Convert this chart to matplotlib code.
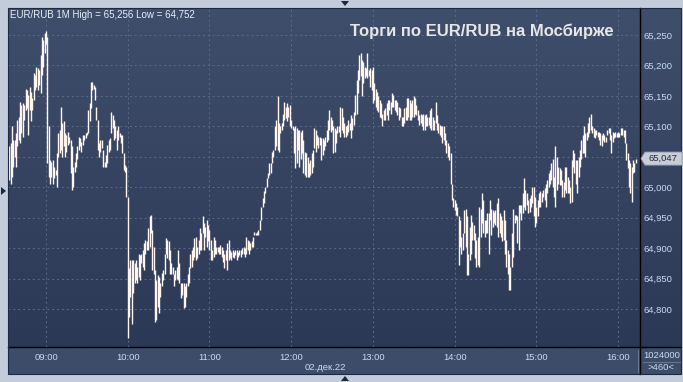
import numpy as np
import matplotlib.pyplot as plt
from matplotlib.patches import Rectangle, Polygon
from matplotlib.lines import Line2D
from matplotlib.colors import LinearSegmentedColormap

plt.rcParams['font.family'] = ['Liberation Sans', 'DejaVu Sans']

# 1-minute bars of EUR/RUB TOM, first bar at 08:33
start_hhmm = (8, 33)
highs = [
    65.067, 65.072, 65.100, 65.078, 65.078, 65.089, 65.110, 65.116, 65.140, 65.135,
    65.138, 65.135, 65.162, 65.160, 65.151, 65.165, 65.157, 65.146, 65.187, 65.184,
    65.198, 65.195, 65.193, 65.217, 65.247, 65.242, 65.254, 65.256, 65.247, 65.100,
    65.045, 65.042, 65.045, 65.034, 65.028, 65.056, 65.089, 65.094, 65.132, 65.105,
    65.108, 65.089, 65.086, 65.091, 65.083, 65.078, 65.067, 65.034, 65.042, 65.056,
    65.067, 65.083, 65.080, 65.075, 65.086, 65.086, 65.089, 65.091, 65.127, 65.138,
    65.173, 65.173, 65.168, 65.165, 65.132, 65.110, 65.072, 65.078, 65.078, 65.061,
    65.042, 65.053, 65.069, 65.078, 65.080, 65.124, 65.119, 65.110, 65.100, 65.094,
    65.100, 65.089, 65.086, 65.086, 65.056, 65.036, 65.034, 64.984, 64.867, 64.880,
    64.880, 64.880, 64.875, 64.880, 64.869, 64.891, 64.889, 64.891, 64.897, 64.908,
    64.913, 64.911, 64.933, 64.952, 64.954, 64.930, 64.902, 64.864, 64.848, 64.856,
    64.853, 64.842, 64.859, 64.864, 64.891, 64.916, 64.913, 64.911, 64.897, 64.875,
    64.869, 64.858, 64.864, 64.869, 64.897, 64.875, 64.842, 64.842, 64.842, 64.837,
    64.842, 64.858, 64.869, 64.891, 64.897, 64.902, 64.916, 64.919, 64.902, 64.913,
    64.933, 64.924, 64.952, 64.941, 64.935, 64.946, 64.938, 64.930, 64.913, 64.897,
    64.919, 64.913, 64.902, 64.902, 64.902, 64.905, 64.902, 64.897, 64.891, 64.897,
    64.908, 64.913, 64.897, 64.894, 64.897, 64.894, 64.897, 64.897, 64.894, 64.897,
    64.897, 64.900, 64.902, 64.900, 64.919, 64.913, 64.911, 64.908, 64.911, 64.919,
    64.927, 64.924, 64.927, 64.930, 64.946, 64.968, 64.982, 64.993, 65.001, 65.015,
    65.023, 65.039, 65.039, 65.058, 65.061, 65.100, 65.110, 65.149, 65.105, 65.100,
    65.105, 65.121, 65.140, 65.132, 65.138, 65.132, 65.135, 65.110, 65.100, 65.097,
    65.100, 65.097, 65.094, 65.094, 65.091, 65.094, 65.078, 65.058, 65.056, 65.050,
    65.039, 65.045, 65.056, 65.061, 65.097, 65.094, 65.086, 65.083, 65.083, 65.080,
    65.080, 65.078, 65.083, 65.094, 65.110, 65.127, 65.116, 65.110, 65.100, 65.097,
    65.094, 65.100, 65.100, 65.132, 65.130, 65.116, 65.105, 65.100, 65.102, 65.110,
    65.105, 65.119, 65.113, 65.124, 65.151, 65.176, 65.193, 65.217, 65.220, 65.209,
    65.206, 65.198, 65.195, 65.220, 65.193, 65.195, 65.193, 65.198, 65.171, 65.162,
    65.157, 65.149, 65.143, 65.138, 65.121, 65.127, 65.130, 65.138, 65.143, 65.143,
    65.140, 65.154, 65.151, 65.143, 65.143, 65.140, 65.132, 65.130, 65.116, 65.116,
    65.130, 65.132, 65.146, 65.146, 65.143, 65.138, 65.143, 65.149, 65.146, 65.135,
    65.127, 65.119, 65.121, 65.119, 65.121, 65.119, 65.121, 65.116, 65.116, 65.127,
    65.130, 65.116, 65.110, 65.140, 65.119, 65.105, 65.102, 65.100, 65.100, 65.100,
    65.089, 65.078, 65.072, 65.067, 65.056, 65.006, 64.982, 64.979, 64.974, 64.968,
    64.952, 64.946, 64.919, 64.924, 64.963, 64.965, 64.952, 64.891, 64.935, 64.954,
    64.943, 64.938, 64.924, 64.913, 64.919, 64.968, 64.965, 64.990, 64.979, 64.946,
    64.946, 64.957, 64.957, 64.979, 64.965, 64.963, 64.960, 64.963, 64.974, 64.982,
    64.957, 64.952, 64.946, 64.963, 64.946, 64.913, 64.897, 64.891, 64.869, 64.924,
    64.965, 64.954, 64.954, 64.952, 64.971, 64.971, 64.971, 64.990, 65.015, 64.995,
    64.990, 64.979, 64.982, 64.987, 65.001, 65.001, 64.984, 64.968, 64.979, 64.990,
    64.993, 64.990, 64.995, 64.998, 65.006, 65.012, 65.023, 65.028, 65.039, 65.047,
    65.017, 65.067, 65.050, 65.034, 65.031, 65.028, 65.012, 65.009, 65.034, 65.034,
    65.017, 65.012, 65.001, 65.045, 65.061, 65.056, 65.045, 65.045, 65.050, 65.061,
    65.078, 65.086, 65.100, 65.089, 65.091, 65.105, 65.116, 65.121, 65.100, 65.097,
    65.094, 65.094, 65.091, 65.091, 65.089, 65.086, 65.089, 65.086, 65.083, 65.094,
    65.097, 65.097, 65.086, 65.091, 65.089, 65.091, 65.089, 65.091, 65.089, 65.097,
    65.097, 65.094, 65.094, 65.072, 65.056, 65.045, 65.039, 65.034, 65.045, 65.039,
    65.047,
]
lows = [
    65.012, 65.006, 65.017, 65.034, 65.050, 65.034, 65.067, 65.078, 65.072, 65.089,
    65.083, 65.110, 65.127, 65.130, 65.086, 65.127, 65.108, 65.127, 65.143, 65.160,
    65.165, 65.160, 65.168, 65.154, 65.184, 65.198, 65.220, 65.236, 65.039, 65.017,
    65.006, 65.017, 65.006, 65.015, 65.020, 65.001, 65.050, 65.056, 65.061, 65.050,
    65.067, 65.050, 65.058, 65.069, 65.072, 65.023, 64.995, 65.001, 65.025, 65.034,
    65.047, 65.061, 65.067, 65.058, 65.069, 65.078, 65.080, 65.086, 65.089, 65.108,
    65.130, 65.160, 65.162, 65.143, 65.110, 65.061, 65.050, 65.058, 65.064, 65.034,
    65.034, 65.034, 65.039, 65.058, 65.061, 65.089, 65.097, 65.078, 65.080, 65.061,
    65.078, 65.083, 65.072, 65.056, 65.028, 65.025, 64.984, 64.752, 64.787, 64.820,
    64.776, 64.826, 64.842, 64.848, 64.842, 64.853, 64.848, 64.875, 64.869, 64.864,
    64.891, 64.897, 64.897, 64.902, 64.924, 64.864, 64.858, 64.779, 64.782, 64.804,
    64.793, 64.820, 64.837, 64.848, 64.858, 64.891, 64.883, 64.880, 64.858, 64.858,
    64.858, 64.837, 64.848, 64.850, 64.848, 64.842, 64.818, 64.823, 64.801, 64.804,
    64.820, 64.837, 64.842, 64.867, 64.869, 64.880, 64.886, 64.880, 64.883, 64.891,
    64.897, 64.897, 64.924, 64.897, 64.919, 64.902, 64.911, 64.897, 64.880, 64.880,
    64.886, 64.891, 64.891, 64.894, 64.891, 64.891, 64.886, 64.878, 64.867, 64.880,
    64.864, 64.880, 64.883, 64.880, 64.886, 64.883, 64.889, 64.880, 64.886, 64.889,
    64.886, 64.891, 64.891, 64.886, 64.891, 64.897, 64.891, 64.897, 64.902, 64.902,
    64.922, 64.922, 64.922, 64.922, 64.930, 64.946, 64.968, 64.974, 64.990, 65.001,
    65.015, 65.020, 65.023, 65.039, 65.050, 65.061, 65.067, 65.061, 65.058, 65.089,
    65.094, 65.100, 65.110, 65.113, 65.108, 65.116, 65.100, 65.097, 65.094, 65.056,
    65.031, 65.039, 65.061, 65.034, 65.047, 65.056, 65.023, 65.020, 65.017, 65.017,
    65.017, 65.020, 65.023, 65.034, 65.064, 65.058, 65.069, 65.064, 65.069, 65.045,
    65.053, 65.061, 65.067, 65.075, 65.078, 65.094, 65.091, 65.094, 65.056, 65.058,
    65.072, 65.089, 65.091, 65.083, 65.094, 65.089, 65.083, 65.083, 65.086, 65.091,
    65.094, 65.080, 65.094, 65.102, 65.119, 65.121, 65.154, 65.176, 65.182, 65.149,
    65.171, 65.179, 65.182, 65.179, 65.182, 65.165, 65.160, 65.138, 65.143, 65.132,
    65.127, 65.124, 65.116, 65.113, 65.100, 65.110, 65.110, 65.119, 65.110, 65.127,
    65.121, 65.132, 65.132, 65.127, 65.124, 65.119, 65.110, 65.116, 65.100, 65.100,
    65.105, 65.110, 65.110, 65.116, 65.110, 65.110, 65.116, 65.116, 65.121, 65.119,
    65.110, 65.102, 65.105, 65.100, 65.094, 65.094, 65.100, 65.100, 65.102, 65.097,
    65.094, 65.094, 65.094, 65.105, 65.094, 65.089, 65.086, 65.083, 65.072, 65.078,
    65.069, 65.056, 65.050, 65.045, 65.006, 64.979, 64.968, 64.963, 64.954, 64.952,
    64.872, 64.902, 64.891, 64.897, 64.924, 64.902, 64.856, 64.856, 64.880, 64.891,
    64.913, 64.913, 64.883, 64.869, 64.872, 64.869, 64.919, 64.941, 64.924, 64.919,
    64.924, 64.924, 64.891, 64.946, 64.922, 64.935, 64.941, 64.938, 64.935, 64.919,
    64.924, 64.919, 64.911, 64.913, 64.891, 64.869, 64.858, 64.831, 64.831, 64.869,
    64.886, 64.941, 64.946, 64.908, 64.897, 64.957, 64.946, 64.957, 64.968, 64.963,
    64.971, 64.957, 64.960, 64.968, 64.974, 64.952, 64.935, 64.941, 64.952, 64.968,
    64.968, 64.976, 64.984, 64.979, 64.968, 64.990, 65.001, 65.006, 65.012, 65.001,
    64.984, 64.968, 64.995, 65.006, 65.004, 65.004, 64.984, 64.984, 64.995, 64.990,
    64.990, 64.990, 64.974, 64.976, 65.034, 65.023, 65.006, 64.990, 65.017, 65.034,
    65.047, 65.056, 65.056, 65.050, 65.078, 65.083, 65.089, 65.094, 65.089, 65.083,
    65.080, 65.086, 65.083, 65.078, 65.069, 65.067, 65.078, 65.075, 65.075, 65.086,
    65.089, 65.078, 65.056, 65.075, 65.080, 65.083, 65.083, 65.083, 65.083, 65.086,
    65.086, 65.083, 65.072, 65.045, 65.031, 65.001, 64.990, 64.976, 65.023, 65.025,
    65.039,
]

hour_labels = ['09:00', '10:00', '11:00', '12:00', '13:00', '14:00', '15:00', '16:00']
price_ticks = [64.80, 64.85, 64.90, 64.95, 65.00, 65.05, 65.10, 65.15, 65.20, 65.25]
last_price = 65.047
date_label = '02.дек.22'
volume_label = '1024000'
bars_label = '>460<'
title = 'Торги по EUR/RUB на Мосбирже'

W, H = 683, 382
fig = plt.figure(figsize=(W / 100, H / 100), dpi=100)
fig.patch.set_facecolor('#c2ccda')


def fx(px):
    return px / W


def fy(py):
    return 1 - py / H


txt_col = '#c9dbf3'
y_lo, y_hi = 64.7376, 65.2943

# dark gradient panel (plot + price scale)
bg = fig.add_axes([fx(8), fy(347), fx(681) - fx(8), fy(8) - fy(347)])
cmap = LinearSegmentedColormap.from_list('bg', ['#3f4e6b', '#2c3956'])
bg.imshow(np.linspace(0, 1, 256).reshape(-1, 1), cmap=cmap, aspect='auto',
          extent=[0, 1, 0, 1], origin='upper')
bg.set_xlim(0, 1)
bg.set_ylim(0, 1)
bg.axis('off')

# time scale strip
fig.patches.append(Rectangle((fx(8), fy(374)), fx(681) - fx(8), fy(347) - fy(374),
                             transform=fig.transFigure, facecolor='#3d4c68',
                             edgecolor='none', zorder=1))

# main price axes
ax = fig.add_axes([fx(8), fy(347), fx(640) - fx(8), fy(8) - fy(347)])
ax.set_zorder(2)
ax.patch.set_alpha(0)

x = np.arange(len(highs))
ax.vlines(x, lows, highs, color='#fff5ef', linewidth=1.0, zorder=3)

ax.set_xlim(-0.9, 463.1)
ax.set_ylim(y_lo, y_hi)

start_min = start_hhmm[0] * 60 + start_hhmm[1]
hour_pos = [int(h[:2]) * 60 - start_min for h in hour_labels]
ax.set_xticks(hour_pos)
ax.set_xticklabels(hour_labels)
ax.set_yticks(price_ticks)
# the level hidden behind the last-price marker gets no label
ax.set_yticklabels(['' if abs(p - last_price) < 0.01 else f'{p:.3f}'.replace('.', ',')
                    for p in price_ticks])
ax.yaxis.tick_right()
ax.tick_params(axis='both', length=0, labelsize=6.8, labelcolor=txt_col)
ax.tick_params(axis='x', pad=4.5)
ax.tick_params(axis='y', pad=2.5)
ax.grid(True, color='#5a6a88', linestyle=(0, (2, 3)), linewidth=0.7)
for s in ax.spines.values():
    s.set_visible(False)

# separators
fig.add_artist(Line2D([fx(640), fx(640)], [fy(8), fy(374)], color='black', lw=1.0))
fig.add_artist(Line2D([fx(8), fx(681)], [fy(347), fy(347)], color='black', lw=1.0))
fig.add_artist(Line2D([fx(643), fx(680)], [fy(361.5), fy(361.5)], color='#6b7893', lw=0.7))
fig.add_artist(Line2D([fx(637.5), fx(637.5)], [fy(350), fy(372)], color='#6b7893', lw=0.7))
# panel outline
fig.patches.append(Rectangle((fx(8), fy(374)), fx(681) - fx(8), fy(8) - fy(374),
                             transform=fig.transFigure, facecolor='none',
                             edgecolor='#1f2a40', lw=0.8, zorder=4))

# texts
hi, lo = max(highs), min(lows)
fig.text(fx(10), fy(15), f'EUR/RUB 1M High = {hi:.3f} Low = {lo:.3f}'.replace('.', ','),
         fontsize=7, color='#e8eef8', va='center', ha='left')
fig.text(fx(482), fy(31), title, fontsize=12, fontweight='bold', color='#e6e6e6',
         ha='center', va='center')
fig.text(fx(325.5), fy(367), date_label, fontsize=6.8, color=txt_col, ha='center', va='center')
fig.text(fx(661.5), fy(356), volume_label, fontsize=6.8, color=txt_col, ha='center', va='center')
fig.text(fx(661.5), fy(367.5), bars_label, fontsize=6.8, color=txt_col, ha='center', va='center')

# last price marker on the price scale
yl = fy(347) + ax.get_position().height * (last_price - y_lo) / (y_hi - y_lo)
hh = 6.5 / H
box = Polygon([(fx(641), yl), (fx(645), yl + hh), (fx(682), yl + hh),
               (fx(682), yl - hh), (fx(645), yl - hh)], closed=True,
              transform=fig.transFigure, facecolor='#c8cdd6', edgecolor='#9aa3b3',
              lw=0.6, zorder=5)
fig.patches.append(box)
fig.text(fx(663), yl, f'{last_price:.3f}'.replace('.', ','), fontsize=6.8,
         color='#1d2a44', ha='center', va='center', zorder=6)

# scroll markers
tri = '#1b2844'
for pts in ([(341, 1), (349, 1), (345, 6)],
            [(341, 381), (349, 381), (345, 376)],
            [(1, 187), (1, 195), (6, 191)]):
    fig.patches.append(Polygon([(fx(a), fy(b)) for a, b in pts], closed=True,
                               transform=fig.transFigure, facecolor=tri,
                               edgecolor='none', zorder=5))

fig.savefig('out.png', dpi=100, facecolor=fig.get_facecolor())
